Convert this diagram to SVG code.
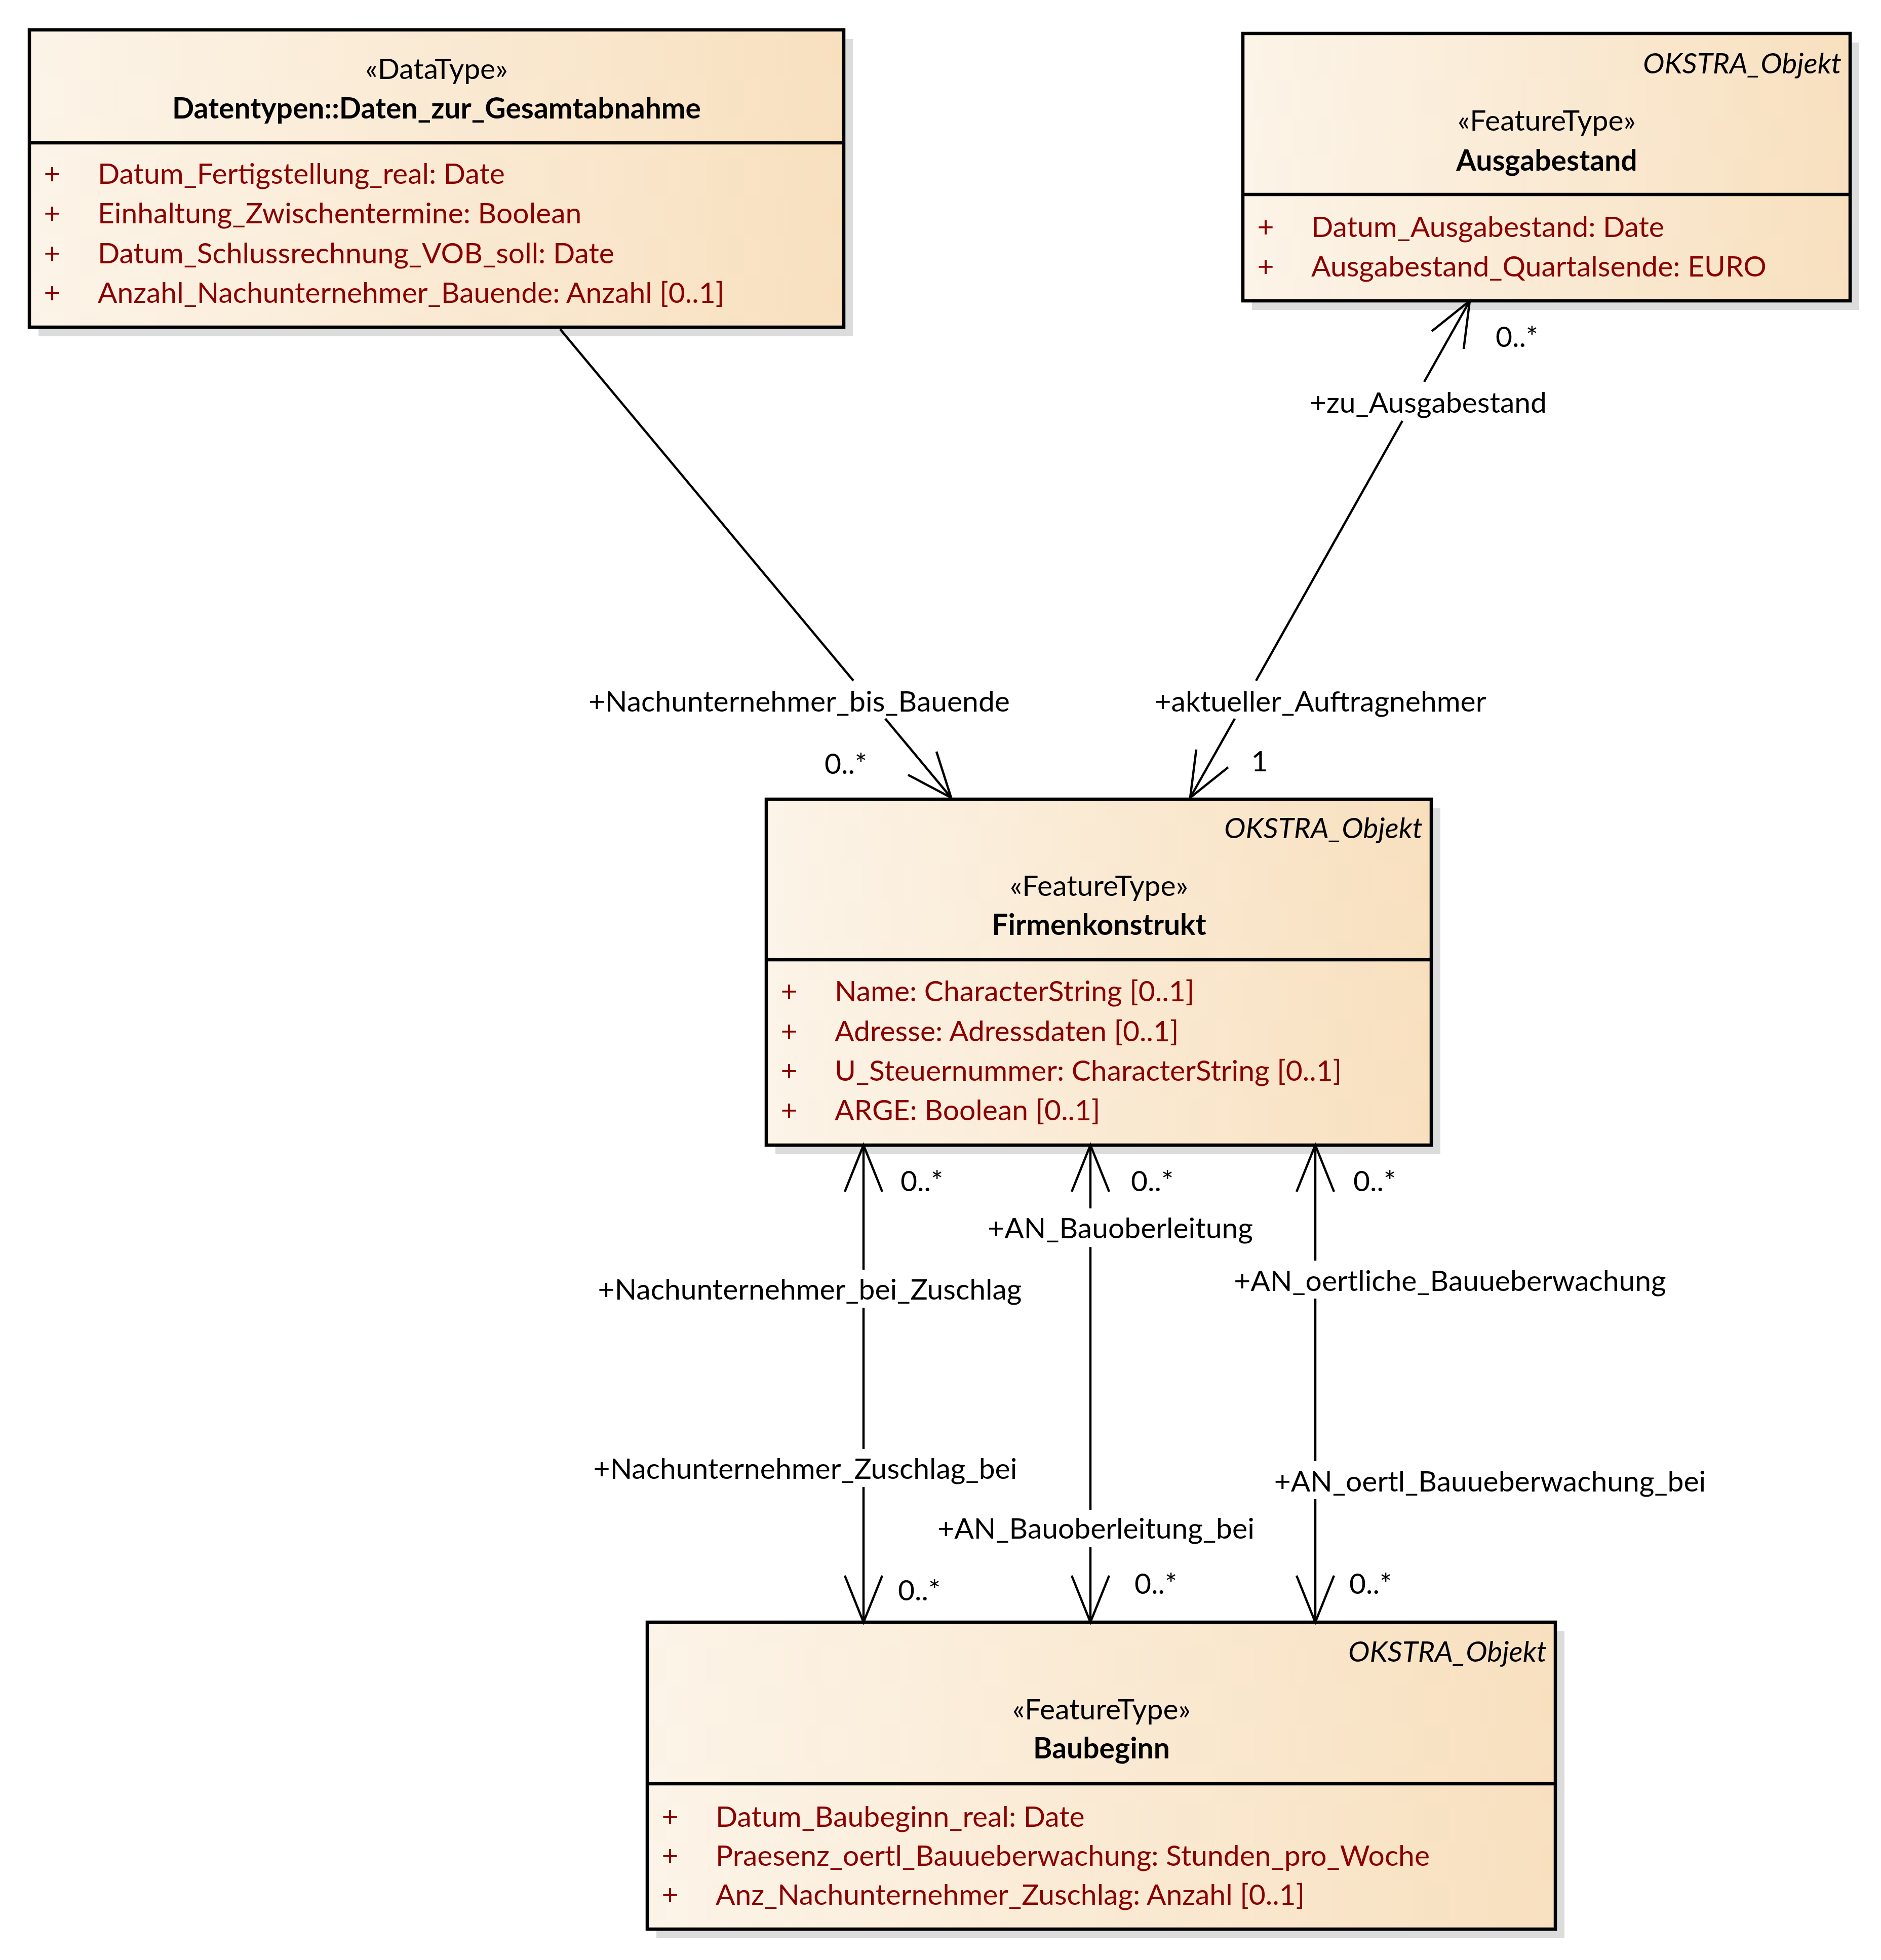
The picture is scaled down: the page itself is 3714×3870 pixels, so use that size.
<svg xmlns="http://www.w3.org/2000/svg" width="3714" height="3870" viewBox="0 0 3714 3870">
<defs>
<linearGradient id="fill" x1="0" y1="0" x2="1" y2="0">
<stop offset="0" stop-color="#fcf4e8"/>
<stop offset="1" stop-color="#f8e0bf"/>
</linearGradient>
</defs>
<style>
.box{fill:url(#fill);stroke:#000;stroke-width:6.5}
.shadow{fill:#dcdcdc}
.div{stroke:#000;stroke-width:6.5}
text{font-family:Lato,"Liberation Sans",sans-serif;font-size:57px;fill:#000;transform:translateY(4px)}
.st{text-anchor:middle}
.nm{text-anchor:middle;font-weight:bold}
.ok{text-anchor:end;font-style:italic}
.at{fill:#8b0000}
.pl{fill:#8b0000;text-anchor:middle}
.lbl{text-anchor:middle}
.conn{fill:none;stroke:#000;stroke-width:4.5}
</style>
<rect x="0" y="0" width="3714" height="3870" fill="#fff"/>

<g id="node-daten-gesamtabnahme">
<rect class="shadow" x="76" y="77" width="1608" height="587"/>
<rect class="box" x="58" y="59" width="1608" height="587"/>
<line class="div" x1="58" y1="282" x2="1666" y2="282"/>
<text class="st" x="862" y="152">«DataType»</text>
<text class="nm" x="862" y="230">Datentypen::Daten_zur_Gesamtabnahme</text>
<text class="pl" x="103" y="359">+</text><text class="at" x="193" y="359">Datum_Fertigstellung_real: Date</text>
<text class="pl" x="103" y="437">+</text><text class="at" x="193" y="437">Einhaltung_Zwischentermine: Boolean</text>
<text class="pl" x="103" y="516">+</text><text class="at" x="193" y="516">Datum_Schlussrechnung_VOB_soll: Date</text>
<text class="pl" x="103" y="594">+</text><text class="at" x="193" y="594">Anzahl_Nachunternehmer_Bauende: Anzahl [0..1]</text>
</g>

<g id="node-ausgabestand">
<rect class="shadow" x="2472" y="84" width="1199" height="528"/>
<rect class="box" x="2454" y="66" width="1199" height="528"/>
<line class="div" x1="2454" y1="384" x2="3653" y2="384"/>
<text class="ok" x="3636" y="141">OKSTRA_Objekt</text>
<text class="st" x="3054" y="254">«FeatureType»</text>
<text class="nm" x="3054" y="333">Ausgabestand</text>
<text class="pl" x="2499" y="464">+</text><text class="at" x="2589" y="464">Datum_Ausgabestand: Date</text>
<text class="pl" x="2499" y="542">+</text><text class="at" x="2589" y="542">Ausgabestand_Quartalsende: EURO</text>
</g>

<g id="node-firmenkonstrukt">
<rect class="shadow" x="1531" y="1596" width="1313" height="683"/>
<rect class="box" x="1513" y="1578" width="1313" height="683"/>
<line class="div" x1="1513" y1="1895" x2="2826" y2="1895"/>
<text class="ok" x="2809" y="1651">OKSTRA_Objekt</text>
<text class="st" x="2170" y="1765">«FeatureType»</text>
<text class="nm" x="2170" y="1842">Firmenkonstrukt</text>
<text class="pl" x="1558" y="1973">+</text><text class="at" x="1648" y="1973">Name: CharacterString [0..1]</text>
<text class="pl" x="1558" y="2052">+</text><text class="at" x="1648" y="2052">Adresse: Adressdaten [0..1]</text>
<text class="pl" x="1558" y="2130">+</text><text class="at" x="1648" y="2130">U_Steuernummer: CharacterString [0..1]</text>
<text class="pl" x="1558" y="2208">+</text><text class="at" x="1648" y="2208">ARGE: Boolean [0..1]</text>
</g>

<g id="node-baubeginn">
<rect class="shadow" x="1296" y="3221" width="1793" height="606"/>
<rect class="box" x="1278" y="3203" width="1793" height="606"/>
<line class="div" x1="1278" y1="3522" x2="3071" y2="3522"/>
<text class="ok" x="3054" y="3277">OKSTRA_Objekt</text>
<text class="st" x="2175" y="3391">«FeatureType»</text>
<text class="nm" x="2175" y="3468">Baubeginn</text>
<text class="pl" x="1323" y="3603">+</text><text class="at" x="1413" y="3603">Datum_Baubeginn_real: Date</text>
<text class="pl" x="1323" y="3680">+</text><text class="at" x="1413" y="3680">Praesenz_oertl_Bauueberwachung: Stunden_pro_Woche</text>
<text class="pl" x="1323" y="3757">+</text><text class="at" x="1413" y="3757">Anz_Nachunternehmer_Zuschlag: Anzahl [0..1]</text>
</g>

<g id="connectors">
<path class="conn" d="M1106,650 L1685,1344 M1748,1419 L1878,1575"/>
<path class="conn" d="M1793,1530 L1878,1575 L1849,1484"/>
<text class="lbl" x="1578" y="1401">+Nachunternehmer_bis_Bauende</text>
<text class="lbl" x="1670" y="1524">0..*</text>

<path class="conn" d="M2350,1575 L2438,1419 M2480,1344 L2769,831 M2812,754 L2902,594"/>
<path class="conn" d="M2362,1480 L2350,1575 L2425,1515"/>
<path class="conn" d="M2827,654 L2902,594 L2890,689"/>
<text class="lbl" x="2607" y="1401">+aktueller_Auftragnehmer</text>
<text class="lbl" x="2487" y="1519">1</text>
<text class="lbl" x="2820" y="811">+zu_Ausgabestand</text>
<text class="lbl" x="2995" y="681">0..*</text>

<path class="conn" d="M1705,2261 L1705,2507 M1705,2582 L1705,2861 M1705,2936 L1705,3203"/>
<path class="conn" d="M1668,2353 L1705,2261 L1742,2353 M1668,3111 L1705,3203 L1742,3111"/>
<text x="1778" y="2348">0..*</text>
<text class="lbl" x="1599" y="2562">+Nachunternehmer_bei_Zuschlag</text>
<text class="lbl" x="1590" y="2916">+Nachunternehmer_Zuschlag_bei</text>
<text x="1773" y="3156">0..*</text>

<path class="conn" d="M2153,2261 L2153,2386 M2153,2462 L2153,2981 M2153,3055 L2153,3203"/>
<path class="conn" d="M2116,2353 L2153,2261 L2190,2353 M2116,3111 L2153,3203 L2190,3111"/>
<text x="2233" y="2348">0..*</text>
<text class="lbl" x="2212" y="2441">+AN_Bauoberleitung</text>
<text class="lbl" x="2164" y="3034">+AN_Bauoberleitung_bei</text>
<text x="2240" y="3143">0..*</text>

<path class="conn" d="M2597,2261 L2597,2489 M2597,2564 L2597,2885 M2597,2960 L2597,3203"/>
<path class="conn" d="M2560,2353 L2597,2261 L2634,2353 M2560,3111 L2597,3203 L2634,3111"/>
<text x="2672" y="2348">0..*</text>
<text class="lbl" x="2863" y="2545">+AN_oertliche_Bauueberwachung</text>
<text class="lbl" x="2942" y="2941">+AN_oertl_Bauueberwachung_bei</text>
<text x="2664" y="3143">0..*</text>
</g>
</svg>
